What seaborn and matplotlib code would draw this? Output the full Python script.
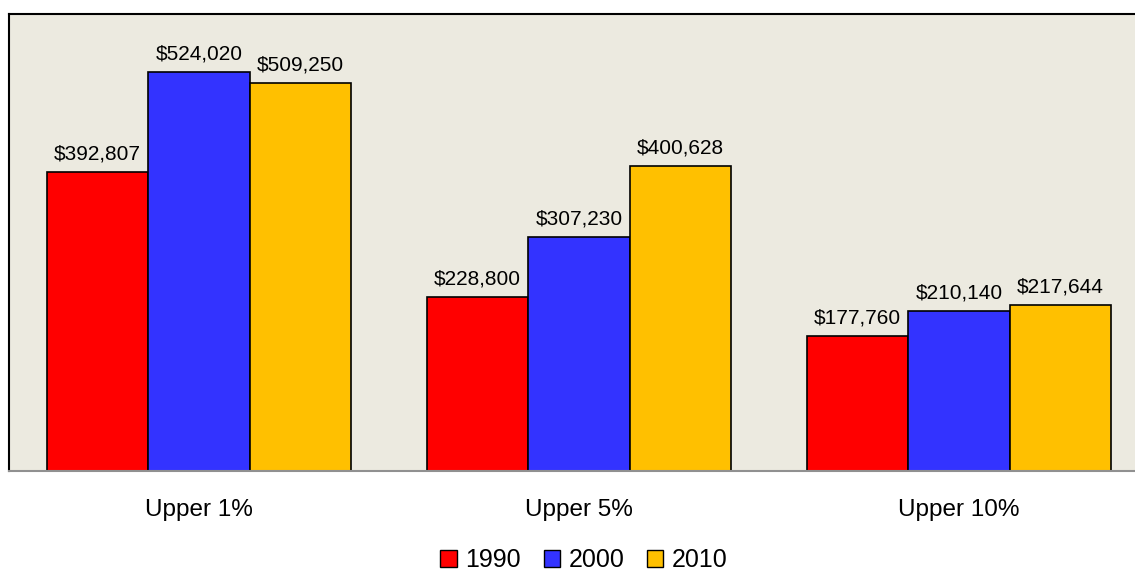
import pandas as pd
import matplotlib
matplotlib.use("Agg")
import matplotlib.pyplot as plt
import seaborn as sns
from matplotlib.patches import Patch

# ---- Data ---------------------------------------------------
groups = ["Upper 1%", "Upper 5%", "Upper 10%"]
years = ["1990", "2000", "2010"]
income_1990 = [392807, 228800, 177760]
income_2000 = [524020, 307230, 210140]
income_2010 = [509250, 400628, 217644]

colors = ["#FF0000", "#3333FF", "#FFC000"]

df = pd.DataFrame({
    "group": groups * 3,
    "year": [years[0]] * 3 + [years[1]] * 3 + [years[2]] * 3,
    "income": income_1990 + income_2000 + income_2010,
})

sns.set_style("white")
plt.rcParams["font.family"] = ["Liberation Sans", "DejaVu Sans"]
plt.rcParams["text.color"] = "black"
plt.rcParams["xtick.color"] = "black"

fig = plt.figure(figsize=(11.35, 5.72), dpi=100)
# axes runs a bit past the right edge, like the original
ax = fig.add_axes([9 / 1135, 101 / 572, 1140 / 1135, 457 / 572])
ax.set_facecolor("#ECEAE0")

sns.barplot(
    data=df, x="group", y="income", hue="year",
    palette=colors, saturation=1, edgecolor="black", linewidth=1.2,
    width=0.8, legend=False, ax=ax,
)

for cont in ax.containers:
    ax.bar_label(cont, labels=[f"${v:,.0f}" for v in cont.datavalues],
                 padding=6, fontsize=15, color="black")

ax.set_xlim(-0.5, 2.5)
ax.set_ylim(0, 600000)
ax.set_yticks([])
ax.set_xlabel("")
ax.set_ylabel("")
ax.tick_params(axis="x", length=0, labelsize=17.5, pad=20, labelcolor="black")

for side in ["top", "left"]:
    ax.spines[side].set_color("black")
    ax.spines[side].set_linewidth(1.5)
ax.spines["bottom"].set_color("#909090")
ax.spines["bottom"].set_linewidth(1.5)
ax.spines["right"].set_visible(False)

handles = [Patch(facecolor=c, edgecolor="black", linewidth=1) for c in colors]
fig.legend(handles, years, loc="center", bbox_to_anchor=(584 / 1135, 12 / 572),
           ncol=3, frameon=False, fontsize=18, handlelength=0.65,
           handleheight=0.65, handletextpad=0.35, columnspacing=0.9)

plt.savefig("out.png", dpi=100)
plt.close()
